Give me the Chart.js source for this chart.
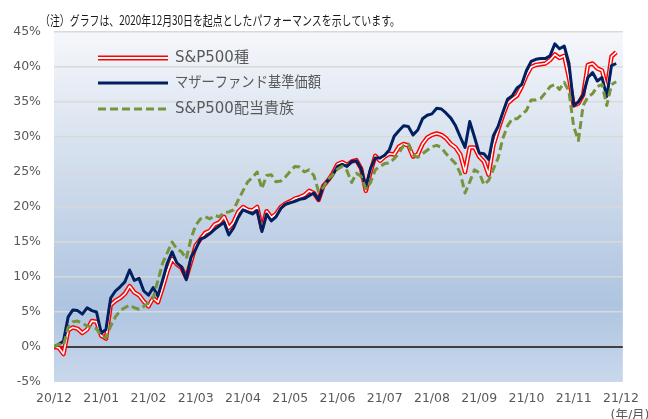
<!DOCTYPE html>
<html lang="ja">
<head>
<meta charset="utf-8">
<script src="https://cdn.jsdelivr.net/npm/chart.js@4"></script>
<style>
  html, body { margin: 0; padding: 0; background: #fff; }
  #wrap { width: 648px; height: 419px; }
</style>
</head>
<body>
<div id="wrap"><canvas id="grafico" width="648" height="419"></canvas></div>
<script>
// Etiquetas del eje X (año/mes), una por mes desde el 2020/12/30
const monthLabels = ['20/12', '21/01', '21/02', '21/03', '21/04', '21/05', '21/06',
  '21/07', '21/08', '21/09', '21/10', '21/11', '21/12'];
// Marcas del eje Y (%)
const yTicks = [-5, 0, 5, 10, 15, 20, 25, 30, 35, 40, 45];
// Separación entre muestras, en meses
const sampleStep = 0.1;

const seriesNames = ['S&P500種', 'マザーファンド基準価額', 'S&P500配当貴族'];

// S&P500種 (%)
const spValues = [
  0, -0.1, -1.0, 2.4, 2.8, 2.6, 2.0, 2.5, 3.7, 3.6,
  1.6, 1.2, 6.0, 6.6, 7.0, 7.6, 8.7, 7.8, 7.4, 6.5,
  5.8, 7.0, 6.4, 8.5, 10.8, 12.6, 11.8, 11.3, 9.9, 12.2,
  14.5, 15.4, 16.3, 16.6, 17.5, 17.8, 18.6, 17.0, 17.8, 19.3,
  20.0, 19.6, 19.5, 20.0, 16.9, 19.4, 18.5, 19.0, 20.0, 20.5,
  20.8, 21.2, 21.4, 21.7, 22.3, 22.0, 21.0, 23.0, 23.8, 24.8,
  26.1, 26.4, 26.0, 26.5, 26.7, 25.5, 22.3, 25.0, 27.3, 26.6,
  27.2, 27.6, 27.5, 28.6, 29.0, 28.8, 27.2, 27.5, 29.0, 29.9,
  30.3, 30.5, 30.3, 29.8, 29.0, 28.5, 27.5, 25.0, 28.5, 28.5,
  27.2, 26.5, 24.6, 28.8, 31.0, 33.0, 34.8, 35.4, 35.9, 37.2,
  38.8, 40.0, 40.3, 40.4, 40.5, 41.0, 41.8, 41.3, 41.6, 38.5,
  34.5, 34.8, 36.0, 40.3, 40.5, 39.8, 39.5, 36.8, 41.5, 42.1
];

// マザーファンド基準価額 (%)
const fundValues = [
  0, 0.4, 0.8, 4.3, 5.3, 5.2, 4.7, 5.6, 5.2, 5.0,
  2.0, 2.5, 7.0, 8.0, 8.6, 9.3, 11.0, 9.5, 9.8, 8.0,
  7.4, 8.5, 7.3, 9.6, 12.0, 13.6, 12.0, 11.4, 9.6, 12.8,
  14.0, 15.4, 15.7, 16.2, 16.8, 17.3, 17.8, 16.0, 17.0, 18.5,
  19.6, 19.3, 19.0, 19.5, 16.5, 19.0, 18.0, 18.6, 19.8, 20.4,
  20.6, 20.8, 21.1, 21.2, 21.6, 22.0, 21.0, 23.0, 23.8, 24.6,
  25.8, 26.1, 25.8, 26.5, 26.6, 25.5, 22.8, 25.5, 27.0, 27.0,
  27.4, 28.2, 30.1, 30.9, 31.6, 31.5, 30.3, 31.0, 32.6, 33.1,
  33.3, 34.1, 34.0, 33.4, 32.7, 31.6, 30.0, 28.5, 32.2, 30.0,
  27.7, 27.6, 26.8, 30.2, 31.5, 33.5, 35.4, 35.9, 37.0, 37.5,
  39.5, 40.8, 41.1, 41.2, 41.2, 41.6, 43.3, 42.6, 43.0, 40.5,
  34.5, 35.0, 36.0, 38.5, 39.2, 38.0, 38.5, 35.8, 40.2, 40.5
];

// S&P500配当貴族 (%)
const aristoValues = [
  0, 0.4, 0.2, 2.8, 3.6, 3.7, 3.4, 3.0, 2.9, 2.6,
  1.6, 1.3, 3.0, 4.3, 5.2, 5.6, 6.0, 5.6, 5.4, 5.8,
  6.3, 7.0, 9.5, 12.0, 13.5, 15.0, 14.0, 13.6, 12.6, 15.5,
  17.4, 18.3, 18.6, 18.3, 18.8, 18.6, 19.2, 19.3, 19.6, 21.0,
  22.3, 23.6, 24.2, 25.0, 22.6, 24.5, 24.6, 23.6, 23.7, 24.3,
  25.1, 25.8, 25.7, 25.0, 25.3, 24.5, 22.2, 22.8, 24.0, 24.6,
  25.4, 25.8, 25.2, 23.5, 24.8, 24.4, 22.6, 23.5, 25.3, 25.8,
  26.2, 26.3, 26.9, 27.7, 28.8, 29.0, 27.4, 27.1, 27.6, 28.1,
  28.6, 28.8, 28.5, 27.6, 26.9, 26.2, 24.8, 22.0, 23.6, 25.3,
  24.9, 23.2, 23.8, 25.4, 27.0, 29.8, 31.6, 32.6, 32.6, 33.2,
  33.8, 35.3, 35.3, 35.5, 36.3, 37.2, 37.5, 36.8, 37.8, 36.5,
  31.5, 29.5, 34.5, 35.7, 36.2, 37.2, 37.5, 34.5, 37.5, 37.9
];

const noteText = '（注）グラフは、2020年12月30日を起点としたパフォーマンスを示しています。';
const unitText = '(年/月)';

const RED = '#ff0000';
const NAVY = '#002060';
const GREEN = '#77933c';
const GRAY = '#595959';

const toPoints = vals => vals.map((v, i) => ({ x: i * sampleStep, y: v }));

// Fondo degradado del área del gráfico
const fondo = {
  id: 'fondo',
  beforeDraw(chart) {
    const { ctx, chartArea: a } = chart;
    const g = ctx.createLinearGradient(0, a.top, 0, a.bottom);
    g.addColorStop(0, '#f5f7fb');
    g.addColorStop(0.45, '#ccd9ea');
    g.addColorStop(0.78, '#aec4e0');
    g.addColorStop(1, '#c9d8ec');
    ctx.save();
    ctx.fillStyle = g;
    ctx.fillRect(a.left, a.top, a.right - a.left, a.bottom - a.top);
    ctx.restore();
  }
};

// Nota, leyenda y unidad
const textos = {
  id: 'textos',
  afterDraw(chart) {
    const { ctx, chartArea: a } = chart;
    ctx.save();
    ctx.textBaseline = 'middle';
    ctx.fillStyle = '#1a1a1a';
    ctx.font = '13px "Noto Sans CJK JP", sans-serif';
    ctx.fillText(noteText, 40, 20, 360);

    const rows = [a.top + 26, a.top + 51, a.top + 77];
    const x0 = a.left + 44, x1 = a.left + 114;
    const widths = [78, 146, 125];
    rows.forEach((y, k) => {
      ctx.setLineDash(k === 2 ? [8, 4] : []);
      if (k === 0) {
        ctx.strokeStyle = RED; ctx.lineWidth = 5;
        ctx.beginPath(); ctx.moveTo(x0, y); ctx.lineTo(x1, y); ctx.stroke();
        ctx.strokeStyle = '#ffffff'; ctx.lineWidth = 1.8;
      } else {
        ctx.strokeStyle = k === 1 ? NAVY : GREEN; ctx.lineWidth = 3;
      }
      ctx.beginPath(); ctx.moveTo(x0, y); ctx.lineTo(x1, y); ctx.stroke();
      ctx.setLineDash([]);
      ctx.fillStyle = GRAY;
      ctx.font = '15px "DejaVu Sans", "Noto Sans CJK JP", sans-serif';
      ctx.fillText(seriesNames[k], x1 + 7, y, widths[k]);
    });

    ctx.textAlign = 'center';
    ctx.textBaseline = 'top';
    ctx.font = '12.5px "DejaVu Sans", "Noto Sans CJK JP", sans-serif';
    ctx.fillText(unitText, 630, 409);
    ctx.restore();
  }
};

new Chart(document.getElementById('grafico'), {
  type: 'line',
  data: {
    datasets: [
      { label: seriesNames[2], data: toPoints(aristoValues), borderColor: GREEN, borderWidth: 3, borderDash: [8, 4], order: 0 },
      { label: seriesNames[1], data: toPoints(fundValues), borderColor: NAVY, borderWidth: 3, order: 1 },
      { label: seriesNames[0], data: toPoints(spValues), borderColor: '#ffffff', borderWidth: 1.6, order: 2 },
      { label: seriesNames[0], data: toPoints(spValues), borderColor: RED, borderWidth: 4.5, order: 3 }
    ]
  },
  options: {
    responsive: false,
    animation: false,
    devicePixelRatio: 1,
    parsing: true,
    elements: {
      point: { radius: 0 },
      line: { tension: 0, borderJoinStyle: 'round', fill: false }
    },
    layout: { padding: { top: 32, right: 16, bottom: 0, left: 0 } },
    plugins: { legend: { display: false }, tooltip: { enabled: false } },
    scales: {
      x: {
        type: 'linear',
        min: 0,
        max: 12.04,
        afterBuildTicks: s => { s.ticks = monthLabels.map((_, i) => ({ value: i })); },
        afterFit: s => { s.height = 37; },
        grid: { display: false, drawTicks: false },
        border: { display: false },
        ticks: {
          autoSkip: false,
          maxRotation: 0,
          padding: 9,
          color: GRAY,
          font: { family: '"DejaVu Sans", sans-serif', size: 12.5 },
          callback: v => monthLabels[v] ?? ''
        }
      },
      y: {
        min: -5,
        max: 45,
        afterBuildTicks: s => { s.ticks = yTicks.map(v => ({ value: v })); },
        afterFit: s => { s.width = 54; },
        grid: {
          drawTicks: false,
          color: c => c.tick.value === 0 ? '#404040' : (c.tick.value === -5 ? 'rgba(0,0,0,0)' : '#d9d9d9'),
          lineWidth: c => c.tick.value === 0 ? 2 : 1.5
        },
        border: { display: false },
        ticks: {
          padding: 13,
          color: GRAY,
          font: { family: '"DejaVu Sans", sans-serif', size: 12.5 },
          callback: v => v + '%'
        }
      }
    }
  },
  plugins: [fondo, textos]
});
</script>
</body>
</html>
